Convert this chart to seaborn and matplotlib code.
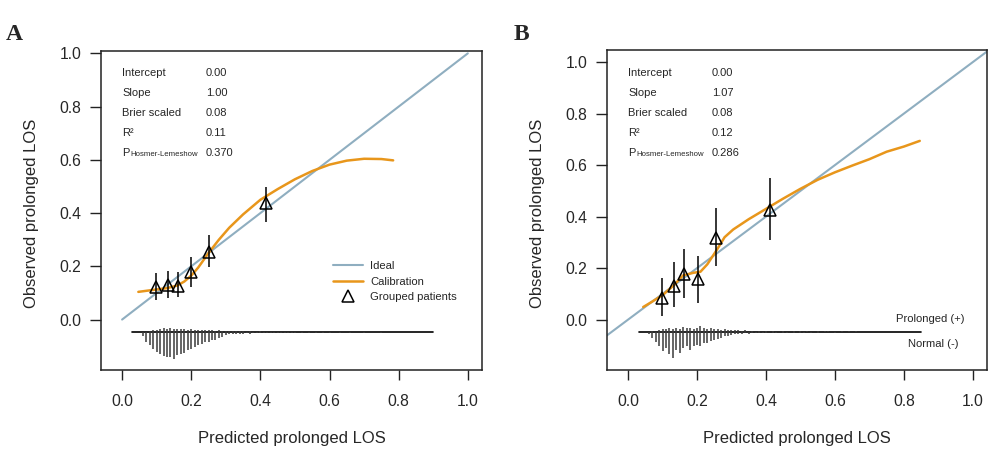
import numpy as np
import pandas as pd
import matplotlib
matplotlib.use("Agg")
import matplotlib.pyplot as plt
from matplotlib.lines import Line2D
import seaborn as sns

# ---------------- data ----------------
ideal_x = [0.0, 1.0]
ideal_y = [0.0, 1.0]

# Panel A
calA_x = [0.047, 0.07, 0.10, 0.13, 0.16, 0.18, 0.20, 0.22, 0.25, 0.28, 0.31, 0.35,
          0.40, 0.45, 0.50, 0.55, 0.60, 0.65, 0.70, 0.75, 0.784]
calA_y = [0.104, 0.108, 0.113, 0.118, 0.128, 0.143, 0.165, 0.195, 0.25, 0.30, 0.345, 0.395,
          0.45, 0.49, 0.527, 0.558, 0.582, 0.597, 0.604, 0.603, 0.598]
grpA_x = [0.097, 0.134, 0.163, 0.198, 0.250, 0.416]
grpA_y = [0.123, 0.129, 0.125, 0.179, 0.254, 0.437]
grpA_lo = [0.073, 0.080, 0.085, 0.123, 0.198, 0.366]
grpA_hi = [0.175, 0.183, 0.179, 0.235, 0.317, 0.497]
statsA = ["0.00", "1.00", "0.08", "0.11", "0.370"]

spA_dn_x = [0.06, 0.07, 0.08, 0.09, 0.10, 0.11, 0.12, 0.13, 0.14, 0.15, 0.16, 0.17, 0.18, 0.19,
            0.20, 0.21, 0.22, 0.23, 0.24, 0.25, 0.26, 0.27, 0.28, 0.29, 0.30, 0.31, 0.32, 0.33,
            0.34, 0.35, 0.36, 0.37, 0.38, 0.39, 0.40, 0.41, 0.42, 0.43, 0.44, 0.45, 0.46, 0.47,
            0.48, 0.49, 0.50, 0.52, 0.54, 0.56, 0.58, 0.60, 0.63, 0.66, 0.70, 0.75]
spA_dn_h = [13, 35, 49, 62, 73, 81, 88, 92, 93, 100, 87, 81, 77, 68,
            62, 55, 49, 42, 38, 36, 30, 27, 23, 17, 10, 8, 6, 7,
            5, 6, 4, 5, 4, 3, 4, 3, 3, 2, 3, 2, 2, 3,
            2, 2, 2, 2, 2, 1, 2, 1, 1, 1, 1, 1]
spA_up_x = [0.08, 0.09, 0.10, 0.11, 0.12, 0.13, 0.14, 0.15, 0.16, 0.17, 0.18, 0.19, 0.20,
            0.21, 0.22, 0.23, 0.24, 0.25, 0.26, 0.27, 0.28, 0.29, 0.30, 0.31, 0.32, 0.33,
            0.34, 0.35, 0.36, 0.37, 0.38, 0.40, 0.42, 0.44, 0.46, 0.48, 0.50, 0.53, 0.56,
            0.59, 0.64, 0.72]
spA_up_h = [5, 8, 10, 12, 15, 12, 15, 14, 12, 13, 12, 10, 12,
            9, 10, 8, 9, 7, 8, 6, 7, 5, 6, 5, 6, 4,
            5, 4, 3, 4, 3, 4, 3, 2, 3, 2, 2, 2, 2,
            1, 1, 1]
spA_range = [0.03, 0.90]

# Panel B
calB_x = [0.044, 0.07, 0.10, 0.13, 0.16, 0.19, 0.21, 0.23, 0.257, 0.28, 0.305, 0.35,
          0.40, 0.45, 0.50, 0.55, 0.60, 0.65, 0.70, 0.75, 0.80, 0.846]
calB_y = [0.049, 0.07, 0.095, 0.13, 0.172, 0.182, 0.186, 0.215, 0.27, 0.32, 0.35, 0.39,
          0.43, 0.47, 0.508, 0.543, 0.572, 0.598, 0.623, 0.652, 0.672, 0.694]
grpB_x = [0.098, 0.133, 0.163, 0.202, 0.254, 0.412]
grpB_y = [0.084, 0.132, 0.178, 0.158, 0.317, 0.426]
grpB_lo = [0.016, 0.049, 0.084, 0.065, 0.207, 0.310]
grpB_hi = [0.161, 0.222, 0.274, 0.248, 0.434, 0.550]
statsB = ["0.00", "1.07", "0.08", "0.12", "0.286"]

spB_dn_x = [0.06, 0.07, 0.08, 0.09, 0.10, 0.11, 0.12, 0.13, 0.14, 0.15, 0.16, 0.17, 0.18, 0.19,
            0.20, 0.21, 0.22, 0.23, 0.24, 0.25, 0.26, 0.27, 0.28, 0.29, 0.30, 0.31, 0.32, 0.33,
            0.34, 0.35, 0.36, 0.37, 0.38, 0.39, 0.40, 0.42, 0.43, 0.45, 0.46, 0.48, 0.50, 0.51,
            0.53, 0.55, 0.57, 0.60, 0.62, 0.65, 0.70, 0.80]
spB_dn_h = [8, 23, 40, 55, 74, 62, 87, 100, 68, 81, 62, 55, 68, 55,
            49, 53, 42, 42, 36, 32, 27, 23, 17, 14, 10, 9, 7, 8,
            5, 6, 4, 5, 3, 4, 3, 3, 2, 3, 2, 2, 3, 2,
            2, 2, 1, 2, 1, 1, 1, 1]
spB_up_x = [0.07, 0.09, 0.10, 0.11, 0.12, 0.13, 0.14, 0.15, 0.16, 0.17, 0.18, 0.19, 0.20,
            0.21, 0.22, 0.23, 0.24, 0.25, 0.26, 0.27, 0.28, 0.29, 0.30, 0.31, 0.32, 0.33,
            0.34, 0.36, 0.38, 0.40, 0.42, 0.45, 0.48, 0.50, 0.52, 0.55, 0.57, 0.58, 0.62,
            0.64, 0.66, 0.70, 0.79]
spB_up_h = [4, 8, 12, 10, 14, 12, 16, 12, 18, 14, 15, 12, 14,
            22, 14, 12, 15, 10, 12, 9, 10, 8, 7, 6, 8, 5,
            6, 5, 4, 5, 3, 4, 3, 4, 3, 3, 5, 4, 5,
            3, 3, 2, 1]
spB_range = [0.032, 0.851]

stat_names = ["Intercept", "Slope", "Brier scaled", "R\u00b2"]
ticks = [0.0, 0.2, 0.4, 0.6, 0.8, 1.0]

# ---------------- style ----------------
sns.set_style("ticks")
plt.rcParams["font.family"] = ["Liberation Sans", "DejaVu Sans"]
plt.rcParams["axes.linewidth"] = 1.0

C_IDEAL = "#8FAEC0"
C_CAL = "#E8961B"

fig = plt.figure(figsize=(10, 4.65), dpi=100)
axA = fig.add_axes([0.101, 0.204, 0.381, 0.687])
axB = fig.add_axes([0.607, 0.204, 0.380, 0.688])


def draw(ax, cal_x, cal_y, gx, gy, glo, ghi, stats, dn_x, dn_h, up_x, up_h, sp_range,
         ylim, full_ideal):
    if full_ideal:
        ax.axline((ideal_x[0], ideal_y[0]), (ideal_x[1], ideal_y[1]), color=C_IDEAL, lw=1.5)
    else:
        sns.lineplot(x=ideal_x, y=ideal_y, ax=ax, color=C_IDEAL, lw=1.5, sort=False)
    sns.lineplot(x=cal_x, y=cal_y, ax=ax, color=C_CAL, lw=1.8, sort=False)
    ax.vlines(gx, glo, ghi, color="black", lw=1.1, zorder=4)
    ax.plot(gx, gy, ls="none", marker="^", ms=9, mfc="none", mec="black", mew=1.1, zorder=5)

    base = -0.048
    scale = 0.10 / 100.0
    ax.plot(sp_range, [base, base], color="black", lw=1.2, zorder=3)
    ax.vlines(dn_x, base, base - np.array(dn_h) * scale, color="#3a3a3a", lw=1.1, zorder=3)
    ax.vlines(up_x, base, base + np.array(up_h) * scale, color="#3a3a3a", lw=1.1, zorder=3)

    ax.set_xlim(-0.061, 1.041)
    ax.set_ylim(*ylim)
    ax.set_xticks(ticks)
    ax.set_yticks(ticks)
    ax.set_xticklabels([f"{t:.1f}" for t in ticks])
    ax.set_yticklabels([f"{t:.1f}" for t in ticks])
    ax.tick_params(axis="x", length=7, width=1.0, pad=10, labelsize=11.3, color="#222222")
    ax.tick_params(axis="y", length=8, width=1.0, pad=6, labelsize=11.3, color="#222222")
    for s in ax.spines.values():
        s.set_visible(True)
        s.set_color("#222222")
        s.set_linewidth(1.1)
    ax.set_xlabel("Predicted prolonged LOS", fontsize=12)
    ax.set_ylabel("Observed prolonged LOS", fontsize=12)
    ax.xaxis.set_label_coords(0.5, -0.19)
    ax.yaxis.set_label_coords(-0.163, 0.49)

    # stats text
    h = 319.3
    w = ax.get_position().width * 1000
    x0 = 21 / w
    x1 = 105 / w
    for i, name in enumerate(stat_names):
        yy = (297 - 20 * i) / h
        ax.text(x0, yy, name, transform=ax.transAxes, fontsize=8, va="center", ha="left")
        ax.text(x1, yy, stats[i], transform=ax.transAxes, fontsize=8, va="center", ha="left")
    yy = (297 - 80) / h
    ax.text(x0, yy, "P", transform=ax.transAxes, fontsize=8, va="center", ha="left")
    ax.text(x0 + 8 / w, yy - 1.5 / h, "Hosmer-Lemeshow", transform=ax.transAxes,
            fontsize=5.6, va="center", ha="left")
    ax.text(x1, yy, stats[4], transform=ax.transAxes, fontsize=8, va="center", ha="left")


draw(axA, calA_x, calA_y, grpA_x, grpA_y, grpA_lo, grpA_hi, statsA,
     spA_dn_x, spA_dn_h, spA_up_x, spA_up_h, spA_range, (-0.19, 1.01), False)
draw(axB, calB_x, calB_y, grpB_x, grpB_y, grpB_lo, grpB_hi, statsB,
     spB_dn_x, spB_dn_h, spB_up_x, spB_up_h, spB_range, (-0.196, 1.046), True)

# legend in A
handles = [Line2D([], [], color=C_IDEAL, lw=1.5),
           Line2D([], [], color=C_CAL, lw=1.8),
           Line2D([], [], ls="none", marker="^", ms=8, mfc="none", mec="black", mew=1.1)]
axA.legend(handles, ["Ideal", "Calibration", "Grouped patients"], loc="upper left",
           bbox_to_anchor=(0.609, 0.342), frameon=False, fontsize=8.1,
           handlelength=2.7, handletextpad=0.6, labelspacing=0.5,
           borderpad=0, borderaxespad=0)

# Prolonged / Normal in B
axB.text((965 - 607) / 380, (370 - 319) / 319.3, "Prolonged (+)", transform=axB.transAxes,
         fontsize=8.1, ha="right", va="center")
axB.text((958 - 607) / 380, (370 - 344) / 319.3, "Normal (-)", transform=axB.transAxes,
         fontsize=8.1, ha="right", va="center")

# panel letters
fig.text(0.014, 1 - 34 / 465, "A", fontsize=17, fontweight="bold",
         family="Liberation Serif", ha="center", va="center")
fig.text(0.521, 1 - 34 / 465, "B", fontsize=17, fontweight="bold",
         family="Liberation Serif", ha="center", va="center")

fig.savefig("out.png", dpi=100, facecolor="white")
